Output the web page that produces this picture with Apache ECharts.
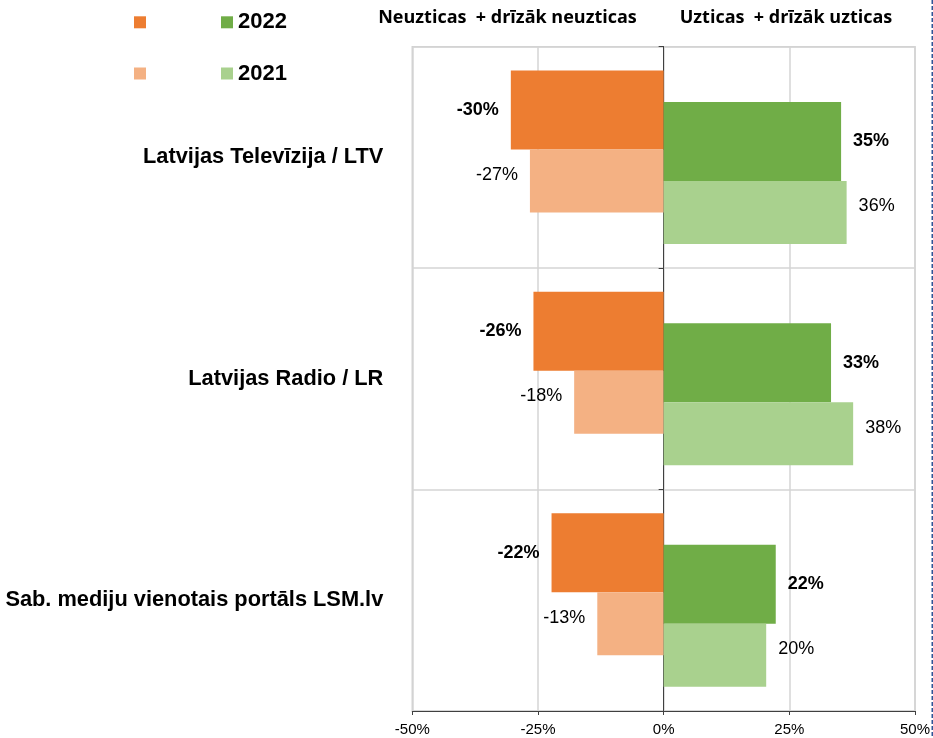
<!DOCTYPE html>
<html>
<head>
<meta charset="utf-8">
<script src="https://cdn.jsdelivr.net/npm/echarts@6/dist/echarts.min.js"></script>
<style>
html,body{margin:0;padding:0;background:#fff;}
#chart{width:933px;height:738px;}
</style>
</head>
<body>
<div id="chart"></div>
<script>
// ---- data ----
var categories = ['Latvijas Televīzija / LTV', 'Latvijas Radio / LR', 'Sab. mediju vienotais portāls LSM.lv'];
var distrust2022 = [-30.4, -25.9, -22.3];
var distrust2021 = [-26.6, -17.8, -13.2];
var trust2022 = [35.3, 33.3, 22.3];
var trust2021 = [36.4, 37.7, 20.4];
var spacer = [0, 0, 0];
var xMin = -50, xMax = 50, xStep = 25;
var headerLeft = 'Neuzticas  + drīzāk neuzticas';
var headerRight = 'Uzticas  + drīzāk uzticas';
var legendYears = ['2022', '2021'];

var FONT = '"Liberation Sans", Arial, sans-serif';
var HFONT = 'bold 18px "Open Sans", Lato, sans-serif';
var C_O22 = '#ED7D31', C_O21 = '#F4B183', C_G22 = '#70AD47', C_G21 = '#A9D18E';

function pct(p) { return Math.round(p.value) + '%'; }

function lbl(pos, bold, dy) {
  return {
    show: true, position: pos, distance: 12, offset: [0, dy],
    formatter: pct, color: '#000', fontFamily: FONT, fontSize: 18,
    fontWeight: bold ? 'bold' : 'normal'
  };
}

function legendRow(year, top) {
  return {
    data: ['Neuzticas ' + year, 'Uzticas ' + year],
    left: 129, top: top, itemGap: 75, itemWidth: 12, itemHeight: 12, icon: 'rect',
    selectedMode: false,
    formatter: function (n) { return n.indexOf('Uzticas') === 0 ? n.split(' ')[1] : ''; },
    textStyle: {fontFamily: FONT, fontSize: 22, fontWeight: 'bold', color: '#000'}
  };
}

var chart = echarts.init(document.getElementById('chart'), null, {renderer: 'canvas'});

var yBase = {type: 'category', data: categories, inverse: true};

var option = {
  animation: false,
  backgroundColor: '#fff',
  grid: {
    left: 412.3, right: 18, top: 46.7, bottom: 27,
    show: true, borderColor: '#cfcfcf', borderWidth: 1.5
  },
  legend: [legendRow(legendYears[0], 6.3), legendRow(legendYears[1], 57.5)],
  xAxis: [
    {
      type: 'value', min: xMin, max: xMax, interval: xStep,
      axisLine: {show: true, lineStyle: {color: '#404040', width: 1}},
      axisTick: {show: true, length: 4, lineStyle: {color: '#404040'}},
      axisLabel: {formatter: function (v) { return v + '%'; }, color: '#000', fontFamily: FONT, fontSize: 15, margin: 11},
      splitLine: {show: true, lineStyle: {color: '#d4d4d4', width: 1.5}}
    },
    {type: 'value', min: xMin, max: xMax, interval: xStep, show: false}
  ],
  yAxis: [
    Object.assign({}, yBase, {
      position: 'left',
      axisLine: {show: false, onZero: false},
      axisTick: {show: false},
      axisLabel: {color: '#000', fontFamily: FONT, fontSize: 21.8, fontWeight: 'bold', margin: 29},
      splitLine: {show: true, lineStyle: {color: '#d4d4d4', width: 1.5}}
    }),
    Object.assign({}, yBase, {
      position: 'left',
      axisLine: {show: true, onZero: true, onZeroAxisIndex: 0, lineStyle: {color: '#404040', width: 1}},
      axisTick: {show: true, length: 5, lineStyle: {color: '#404040'}},
      axisLabel: {show: false},
      splitLine: {show: false}
    }),
    Object.assign({}, yBase, {
      position: 'right',
      axisLine: {show: true, onZero: true, onZeroAxisIndex: 1, lineStyle: {color: '#404040', width: 1}},
      axisTick: {show: true, inside: true, alignWithLabel: true, length: 4, lineStyle: {color: '#404040'}},
      axisLabel: {show: false},
      splitLine: {show: false}
    })
  ],
  series: [
    {name: 'Neuzticas 2022', type: 'bar', yAxisIndex: 0, data: distrust2022, barWidth: 79, barGap: '0%',
      itemStyle: {color: C_O22}, label: lbl('left', true, 0)},
    {name: 'Neuzticas 2021', type: 'bar', yAxisIndex: 0, data: distrust2021, barWidth: 63, barGap: '0%',
      itemStyle: {color: C_O21}, label: lbl('left', false, -6)},
    {name: 'spacerA', type: 'bar', yAxisIndex: 0, data: spacer, barWidth: 32, barGap: '0%', silent: true,
      itemStyle: {color: 'rgba(0,0,0,0)'}, label: {show: false}},
    {name: 'spacerB', type: 'bar', yAxisIndex: 1, data: spacer, barWidth: 31, barGap: '0%', silent: true,
      itemStyle: {color: 'rgba(0,0,0,0)'}, label: {show: false}},
    {name: 'Uzticas 2022', type: 'bar', yAxisIndex: 1, data: trust2022, barWidth: 79, barGap: '0%',
      itemStyle: {color: C_G22}, label: lbl('right', true, 0)},
    {name: 'Uzticas 2021', type: 'bar', yAxisIndex: 1, data: trust2021, barWidth: 63, barGap: '0%',
      itemStyle: {color: C_G21}, label: lbl('right', false, -6)}
  ],
  graphic: [
    {type: 'text', x: 507.5, y: 18, silent: true,
      style: {text: headerLeft, fill: '#000', font: HFONT, textAlign: 'center', textVerticalAlign: 'middle'}},
    {type: 'text', x: 786, y: 18, silent: true,
      style: {text: headerRight, fill: '#000', font: HFONT, textAlign: 'center', textVerticalAlign: 'middle'}},
    {type: 'line', silent: true,
      shape: {x1: 932.5, y1: 0, x2: 932.5, y2: 738},
      style: {stroke: '#2f5597', lineWidth: 2, lineDash: [4, 2]}}
  ]
};
chart.setOption(option);
</script>
</body>
</html>
